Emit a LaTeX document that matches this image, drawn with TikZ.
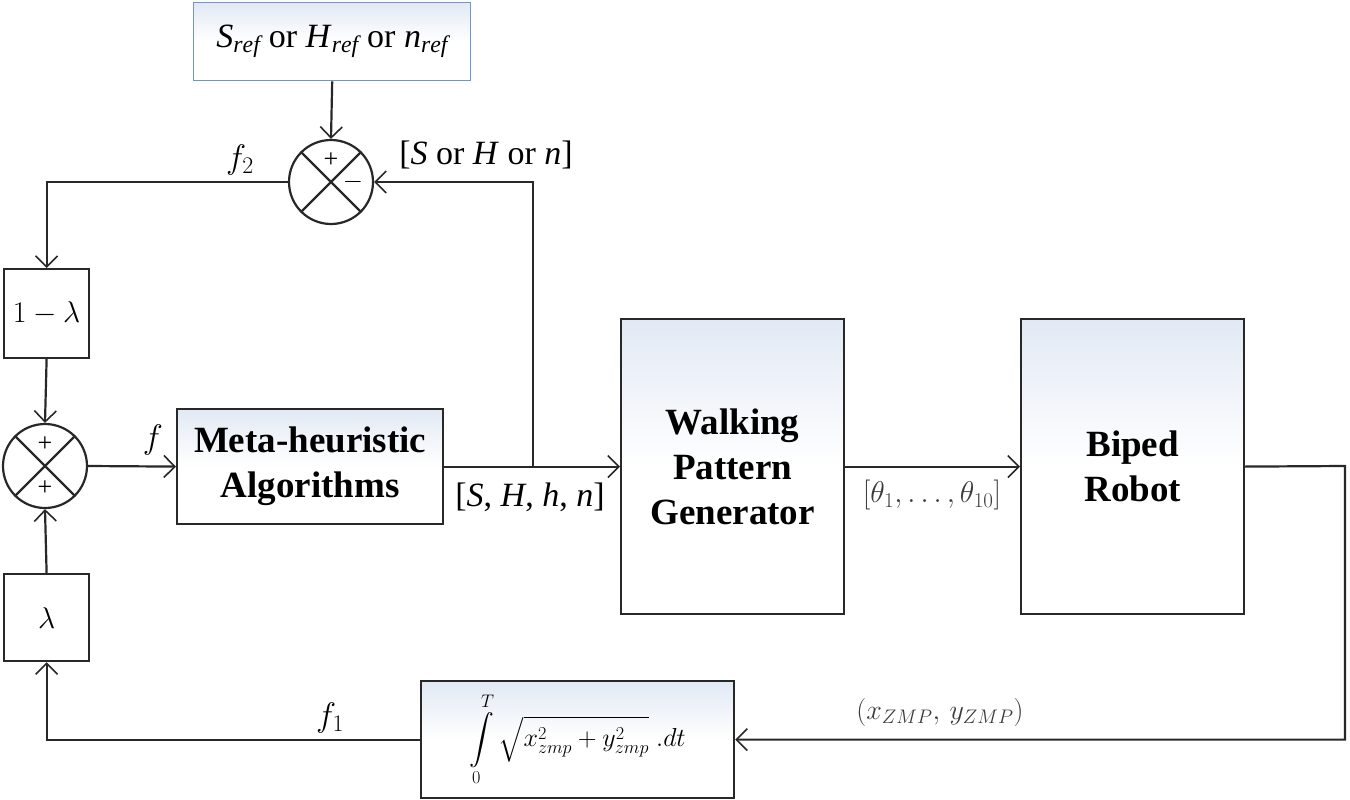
\RequirePackage{fix-cm}
\documentclass[tikz,border=0pt]{standalone}
\usepackage{amsmath}
\usepackage{fontspec}
\setmainfont{Liberation Serif}
\usetikzlibrary{arrows.meta}
\definecolor{linec}{RGB}{40,40,40}
\definecolor{graytxt}{RGB}{60,60,60}
\definecolor{shadec}{RGB}{226,233,244}
\definecolor{refc}{RGB}{110,150,200}
\begin{document}
\begin{tikzpicture}[x=1pt,y=-1pt,
  line width=2.2pt, draw=linec,
  arr/.style={-{Straight Barb[length=11pt,width=22pt,line width=1.6pt]}},
  blk/.style={draw, rectangle, inner sep=0pt, anchor=north west,
    top color=shadec, bottom color=white, middle color=white,
    align=center, font=\fontsize{37}{45}\selectfont\bfseries},
  small/.style={draw, rectangle, inner sep=0pt, anchor=north west, fill=white,
    font=\fontsize{30}{34}\selectfont},
  sumc/.style={draw, circle, minimum size=84pt, inner sep=0pt, fill=white},
  sgn/.style={font=\fontsize{26}{28}\selectfont, inner sep=0pt},
  lbl/.style={font=\fontsize{34}{38}\selectfont, inner sep=0pt}
]
\useasboundingbox (0,0) rectangle (1350,800);
% blocks
\node[blk, draw=refc, line width=1.4pt,
  minimum width=277pt, minimum height=78pt,
  font=\fontsize{34}{38}\selectfont] (ref) at (193,2)
  {\textit{S}$_{\mathit{ref}}$ or \textit{H}$_{\mathit{ref}}$ or \textit{n}$_{\mathit{ref}}$};
\node[small, minimum width=85pt, minimum height=89pt] (oml) at (3,268) {$1-\lambda$};
\node[small, minimum width=85pt, minimum height=87pt] (lam) at (3,573) {$\lambda$};
\node[blk, minimum width=266pt, minimum height=115pt] (mh) at (176,408) {Meta-heuristic\\Algorithms};
\node[blk, minimum width=223pt, minimum height=295pt] (wpg) at (620,318) {Walking\\Pattern\\Generator};
\node[blk, minimum width=223pt, minimum height=295pt] (bip) at (1020,318) {Biped\\Robot};
\node[blk, minimum width=313pt, minimum height=117pt, font=\fontsize{26}{28}\selectfont] (intg) at (420,680)
  {$\displaystyle\int\limits_0^T \sqrt{x_{zmp}^2+y_{zmp}^2}\;.dt$};
% summing junctions
\node[sumc] (s1) at (331,182) {};
\draw (s1.north west) -- (s1.south east) (s1.north east) -- (s1.south west);
\node[sgn] at ([yshift=22pt]s1.center) {+};
\node[sgn] at ([xshift=22pt]s1.center) {$-$};
\node[sumc] (s2) at (45,466) {};
\draw (s2.north west) -- (s2.south east) (s2.north east) -- (s2.south west);
\node[sgn] at ([yshift=22pt]s2.center) {+};
\node[sgn] at ([yshift=-22pt]s2.center) {+};
% coordinates
\coordinate (j) at (533,466);
\coordinate (c1) at (1345,466);
% connectors
\draw[arr] (ref.south) -- (s1.north);
\draw[arr] (j) |- (s1.east);
\draw[arr] (s1.west) -| (oml.north);
\draw[arr] (oml.south) -- (s2.north);
\draw[arr] (lam.north) -- (s2.south);
\draw[arr] (s2.east) -- (mh.west);
\draw[arr] (mh.east) -- (wpg.west);
\draw[arr] (wpg.east) -- (bip.west);
\draw[arr] (bip.east) -- (c1) |- (intg.east);
\draw[arr] (intg.west) -| (lam.south);
% labels
\node[lbl] (lf2) at (240,160) {$f_2$};
\node[lbl] (lsh) at (486,155) {[\textit{S} or \textit{H} or \textit{n}]};
\node[lbl] (lf) at (153,440) {$f$};
\node[lbl] (lshhn) at (530,497) {[\textit{S}, \textit{H}, \textit{h}, \textit{n}]};
\node[lbl, text=graytxt, font=\fontsize{30}{34}\selectfont] (lth) at (932,495) {$[\theta_1,\ldots,\theta_{10}]$};
\node[lbl, text=graytxt, font=\fontsize{28}{32}\selectfont] (lzmp) at (940,712) {$\left(x_{ZMP},\,y_{ZMP}\right)$};
\node[lbl] (lf1) at (330,718) {$f_1$};
\end{tikzpicture}
\end{document}
